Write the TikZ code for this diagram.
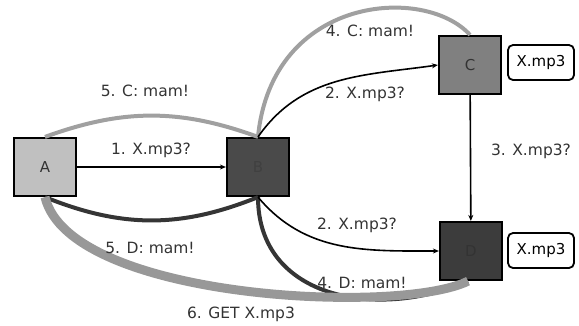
\documentclass[tikz,border=0pt]{standalone}
\usepackage{fontspec}
\setmainfont{DejaVu Sans}
\usetikzlibrary{arrows.meta}
\definecolor{boxA}{HTML}{C0C0C0}
\definecolor{boxB}{HTML}{4A4A4A}
\definecolor{boxC}{HTML}{808080}
\definecolor{boxD}{HTML}{3C3C3C}
\definecolor{lgray}{HTML}{A0A0A0}
\definecolor{dgray}{HTML}{353535}
\definecolor{txt}{HTML}{333333}
\begin{document}
\begin{tikzpicture}[x=1pt,y=1pt,
  peer/.style={draw=black,line width=2.2pt,minimum width=62pt,minimum height=58pt,inner sep=0pt,font=\fontsize{15}{15}\selectfont,text=txt},
  filebox/.style={draw=black,line width=1.8pt,rounded corners=5pt,fill=white,minimum width=66pt,minimum height=35pt,inner sep=0pt,font=\fontsize{15}{15}\selectfont},
  lbl/.style={inner sep=0pt,text=txt,font=\fontsize{15.5}{16}\selectfont},
  query/.style={draw=black,line width=1.6pt,-{Stealth[length=6pt,width=5pt]}},
  lightreply/.style={draw=lgray,line width=4pt},
  darkreply/.style={draw=dgray,line width=4pt},
  getband/.style={draw=lgray!95!black,line width=9pt}]
\useasboundingbox (0,0) rectangle (579,-325);

\node[peer,fill=boxA] (A) at (45,-167) {A};
\node[peer,fill=boxB,text=black!75] (B) at (258,-167) {B};
\node[peer,fill=boxC] (C) at (470,-65) {C};
\node[peer,fill=boxD,text=black!80] (D) at (471,-251) {D};
\node[filebox] (FC) at (541,-62.5) {X.mp3};
\node[filebox] (FD) at (541,-250.5) {X.mp3};
\coordinate (Dfoot) at ([xshift=-3pt]D.south);

% dark replies
\draw[darkreply] (A.south) to[bend right=22] (B.south);
\draw[darkreply] (B.south) .. controls (258,-300) and (380,-320) .. (Dfoot);
% GET band
\draw[getband] (A.south) .. controls (70,-300) and (400,-315) .. (Dfoot);
% light replies
\draw[lightreply] (A.north) to[bend left=20] (B.north);
\draw[lightreply] (B.north) .. controls (272,5) and (425,15) .. (C.north);

% queries
\draw[query] (A) -- (B);
\draw[query] (B.north) to[out=55,in=188] (C.west);
\draw[query] (B.south) to[out=-50,in=180] (D.west);
\draw[query] (C) -- (D);

% labels
\node[lbl] (l1) at (151,-150) {1. X.mp3?};
\node[lbl] (l5c) at (145,-91) {5. C: mam!};
\node[lbl] (l4c) at (370,-31) {4. C: mam!};
\node[lbl] (l2c) at (365,-94) {2. X.mp3?};
\node[lbl] (l3) at (531,-151) {3. X.mp3?};
\node[lbl] (l2d) at (357,-225) {2. X.mp3?};
\node[lbl] (l4d) at (362,-283) {4. D: mam!};
\node[lbl] (l5d) at (150,-248) {5. D: mam!};
\node[lbl] (l6) at (241,-314) {6. GET X.mp3};
\end{tikzpicture}
\end{document}
